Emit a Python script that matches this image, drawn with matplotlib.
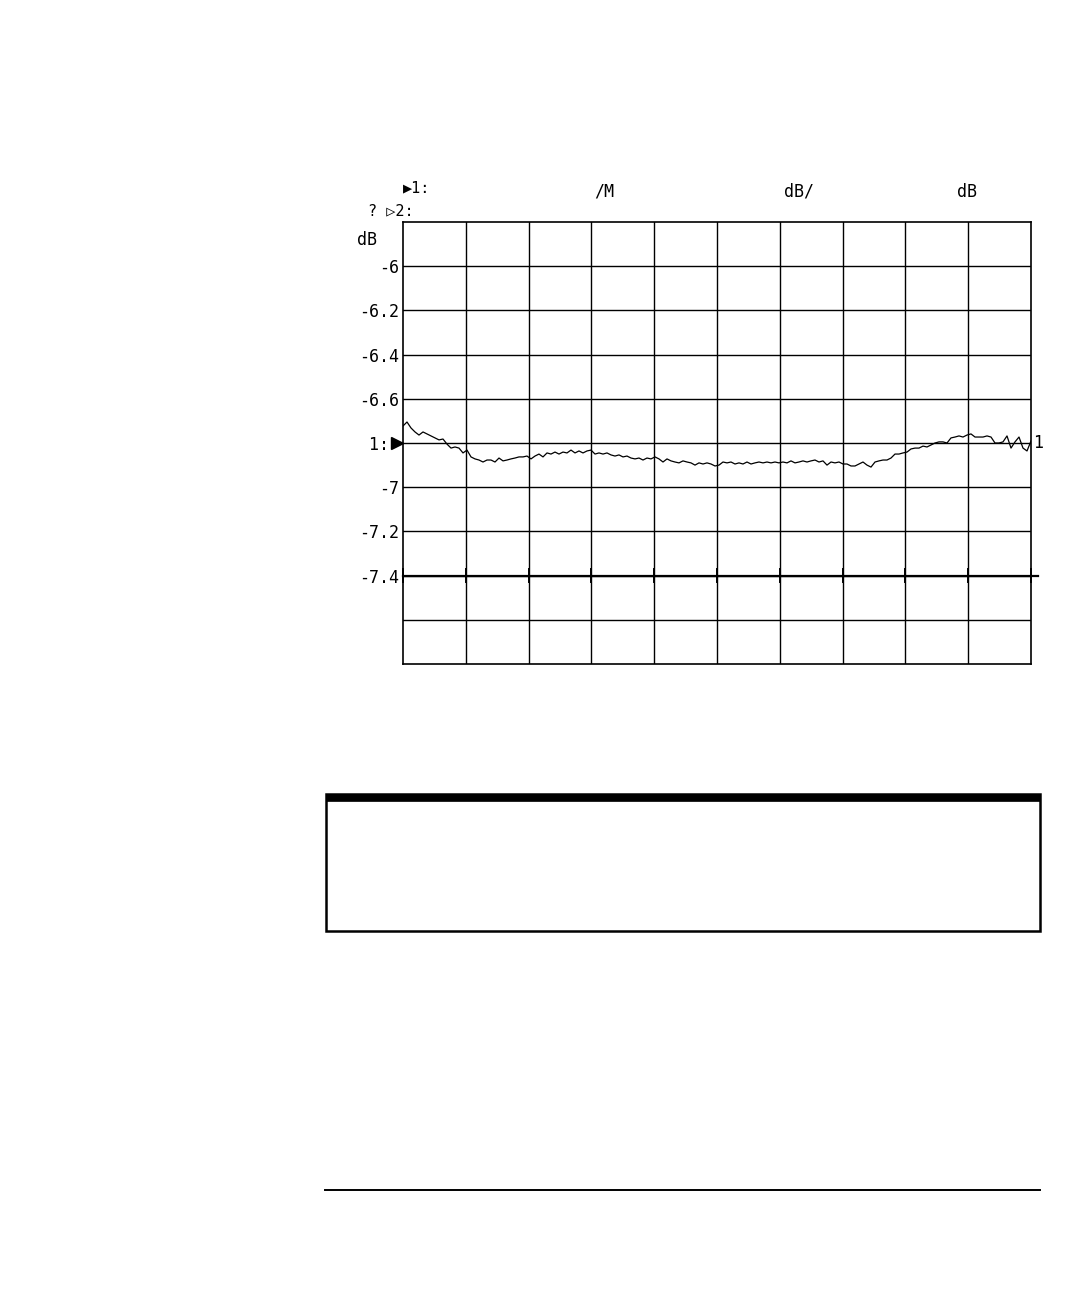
import numpy as np
import matplotlib
matplotlib.use("Agg")
import matplotlib.pyplot as plt
from matplotlib.patches import Rectangle
from matplotlib.lines import Line2D

# trace values (dB), equally spaced over the 10 divisions
trace_db = [
    -6.723, -6.705, -6.732, -6.750, -6.764, -6.750, -6.759, -6.768, -6.777, -6.786,
    -6.782, -6.805, -6.823, -6.818, -6.823, -6.845, -6.832, -6.863, -6.872, -6.877,
    -6.886, -6.877, -6.877, -6.886, -6.868, -6.881, -6.877, -6.872, -6.868, -6.863,
    -6.863, -6.859, -6.872, -6.859, -6.850, -6.863, -6.845, -6.850, -6.841, -6.850,
    -6.841, -6.845, -6.832, -6.845, -6.836, -6.845, -6.836, -6.832, -6.850, -6.845,
    -6.850, -6.845, -6.854, -6.859, -6.854, -6.863, -6.859, -6.868, -6.872, -6.868,
    -6.877, -6.868, -6.872, -6.863, -6.872, -6.886, -6.872, -6.881, -6.886, -6.890,
    -6.881, -6.886, -6.890, -6.900, -6.890, -6.895, -6.890, -6.895, -6.904, -6.900,
    -6.886, -6.890, -6.886, -6.895, -6.890, -6.895, -6.886, -6.895, -6.890, -6.886,
    -6.890, -6.886, -6.890, -6.886, -6.890, -6.886, -6.890, -6.881, -6.890, -6.886,
    -6.881, -6.886, -6.881, -6.877, -6.886, -6.881, -6.900, -6.886, -6.890, -6.886,
    -6.895, -6.895, -6.904, -6.904, -6.895, -6.886, -6.900, -6.909, -6.886, -6.881,
    -6.877, -6.877, -6.868, -6.850, -6.850, -6.845, -6.841, -6.827, -6.823, -6.823,
    -6.814, -6.818, -6.809, -6.800, -6.795, -6.795, -6.800, -6.777, -6.773, -6.768,
    -6.773, -6.764, -6.759, -6.773, -6.773, -6.773, -6.768, -6.773, -6.800, -6.800,
    -6.795, -6.768, -6.823, -6.795, -6.773, -6.823, -6.836, -6.791,
]

y_ticks = [-6.0, -6.2, -6.4, -6.6, -6.8, -7.0, -7.2, -7.4]
y_labels = ["-6", "-6.2", "-6.4", "-6.6", "1: ", "-7", "-7.2", "-7.4"]
ref_level = -6.8

W, H = 1086, 1300
MONO = "DejaVu Sans Mono"


def px(x, y):
    # pixel position (from top left) -> figure fraction
    return x / W, 1 - y / H


fig = plt.figure(figsize=(W / 100, H / 100), dpi=100)
fig.patch.set_facecolor("white")

left, top, right, bottom = 403, 222, 1031, 664
ax = fig.add_axes([left / W, 1 - bottom / H, (right - left) / W, (bottom - top) / H])

x = np.linspace(0, 10, len(trace_db))
ax.plot(x, trace_db, color="black", lw=0.9)

ax.set_xlim(0, 10)
ax.set_ylim(-7.8, -5.8)

# graticule
for gx in range(1, 10):
    ax.axvline(gx, color="black", lw=1.0)
for gy in np.arange(-6.0, -7.7, -0.2):
    ax.axhline(gy, color="black", lw=1.0)
# heavier line at -7.4 with small tick marks, running slightly past the right edge
ax.plot([0, 10.11], [-7.4, -7.4], color="black", lw=1.6, clip_on=False)
for gx in range(0, 11):
    ax.plot([gx, gx], [-7.43, -7.37], color="black", lw=1.4, clip_on=False)

for s in ax.spines.values():
    s.set_color("black")
    s.set_linewidth(1.2)

ax.set_xticks([])
ax.set_yticks(y_ticks)
ax.set_yticklabels(y_labels, family=MONO, fontsize=12)
ax.tick_params(axis="y", length=0, pad=3)

# reference marker at the "1:" position
ax.plot([-0.1], [ref_level], marker=">", color="black", markersize=9, clip_on=False)
ax.text(10.04, ref_level, "1", family=MONO, fontsize=12, va="center", ha="left")

# header annotations
fig.text(*px(357, 240), "dB", family=MONO, fontsize=12, va="center", ha="left")
fig.text(*px(403, 188), "\u25b61:", family=MONO, fontsize=11, va="center", ha="left")
fig.text(*px(368, 211), "? \u25b72:", family=MONO, fontsize=11, va="center", ha="left")
fig.text(*px(594, 192), "/M", family=MONO, fontsize=12, va="center", ha="left")
fig.text(*px(784, 192), "dB/", family=MONO, fontsize=12, va="center", ha="left")
fig.text(*px(957, 192), "dB", family=MONO, fontsize=12, va="center", ha="left")

# empty note box below the chart
bx0, by0 = px(326, 931)
bx1, by1 = px(1040, 794)
fig.add_artist(Rectangle((bx0, by0), bx1 - bx0, by1 - by0, transform=fig.transFigure,
                         fill=False, edgecolor="black", lw=1.8))
tx0, ty0 = px(326, 801)
fig.add_artist(Rectangle((tx0, ty0), bx1 - tx0, by1 - ty0, transform=fig.transFigure,
                         facecolor="black", edgecolor="black", lw=0.5))

# footer rule
fx0, fy = px(325, 1190)
fx1, _ = px(1040, 1190)
fig.add_artist(Line2D([fx0, fx1], [fy, fy], transform=fig.transFigure, color="black", lw=1.4))

fig.savefig("out.png", dpi=100, facecolor="white")
